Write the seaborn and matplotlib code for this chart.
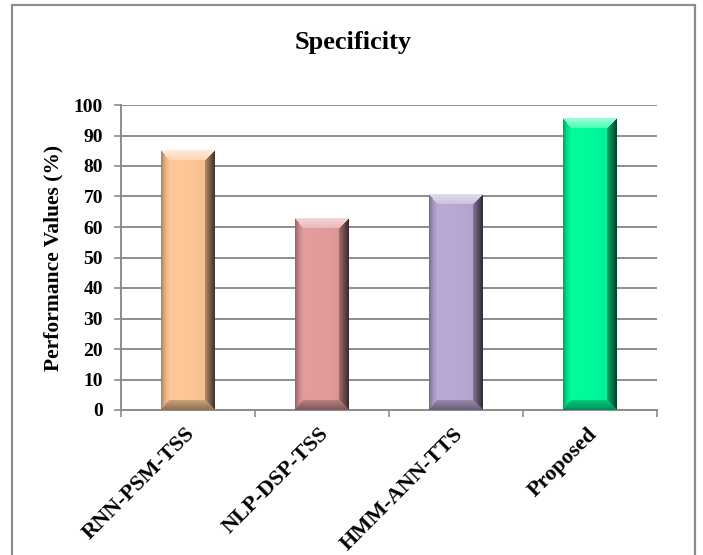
import numpy as np
import pandas as pd
import matplotlib
matplotlib.use("Agg")
import matplotlib.pyplot as plt
import matplotlib.colors as mcolors
import matplotlib.transforms as mtransforms
from matplotlib.patches import Rectangle
import seaborn as sns

# ---- data ----
methods = ["RNN-PSM-TSS", "NLP-DSP-TSS", "HMM-ANN-TTS", "Proposed"]
specificity = [85, 62.7, 70.8, 95.5]
bar_colors = ["#FFC898", "#E59C9C", "#BAA9D4", "#00FC9C"]
y_ticks = [0, 10, 20, 30, 40, 50, 60, 70, 80, 90, 100]

title_text = "Specificity"
ylabel_text = "Performance Values (%)"

sns.set_theme(style="white")
plt.rcParams["font.family"] = ["Liberation Serif", "DejaVu Serif"]
plt.rcParams["font.weight"] = "bold"

W_PX, H_PX = 703, 555
fig = plt.figure(figsize=(W_PX / 100, H_PX / 100), dpi=100)
fig.patch.set_facecolor("white")

ax_l, ax_r, ax_t, ax_b = 121, 657, 105, 410
ax = fig.add_axes([ax_l / W_PX, 1 - ax_b / H_PX, (ax_r - ax_l) / W_PX, (ax_b - ax_t) / H_PX])

df = pd.DataFrame({"method": methods, "value": specificity})
sns.barplot(data=df, x="method", y="value", hue="method", palette=bar_colors,
            legend=False, width=0.4, saturation=1, ax=ax, zorder=3,
            edgecolor="none", linewidth=0)

ax.set_xlim(-0.5, len(methods) - 0.5)
ax.set_ylim(0, 100)
ax.set_yticks(y_ticks)
ax.set_yticklabels([str(v) for v in y_ticks], fontsize=14, fontweight="bold", color="black")
ax.set_xticks(range(len(methods)))
ax.set_xticklabels(methods, rotation=45, ha="right", va="center",
                   rotation_mode="anchor", fontsize=16, fontweight="bold", color="black")
ax.set_xticks(np.arange(-0.5, len(methods)), minor=True)
ax.tick_params(axis="x", which="major", length=0, pad=15)
ax.tick_params(axis="x", which="minor", length=5, width=1.2, color="#8c8c8c", direction="out", bottom=True)
ax.tick_params(axis="y", length=5, width=1.2, color="#8c8c8c", direction="out", left=True, pad=8)
shift = mtransforms.ScaledTranslation(4 / 100, 0, fig.dpi_scale_trans)
for lbl in ax.get_xticklabels():
    lbl.set_transform(lbl.get_transform() + shift)

ax.set_xlabel("")
ax.set_ylabel(ylabel_text, fontsize=15.5, fontweight="bold", color="black")
ax.yaxis.set_label_coords((63 - ax_l) / (ax_r - ax_l), 0.5)

fig.text(353 / W_PX, 1 - 49 / H_PX, title_text, ha="center", va="baseline",
         fontsize=19, fontweight="bold", color="black")

ax.yaxis.grid(True, color="#8c8c8c", linewidth=1.4, zorder=0)
ax.set_axisbelow(True)
for s in ["top", "right"]:
    ax.spines[s].set_visible(False)
for s in ["left", "bottom"]:
    ax.spines[s].set_color("#8c8c8c")
    ax.spines[s].set_linewidth(1.4)

# ---- bevel shading over each bar (geometry taken from the seaborn patches) ----
def bevel_image(color, wpx, hpx, bpx=10):
    base = np.array(mcolors.to_rgb(color))
    ii, jj = np.mgrid[0:hpx, 0:wpx].astype(float)
    dt = ii / bpx
    db = (hpx - 1 - ii) / bpx
    dl = jj / (bpx * 0.8)
    dr = (wpx - 1 - jj) / bpx
    stack = np.stack([dt, db, dl, dr])
    face = np.argmin(stack, axis=0)
    dmin = np.min(stack, axis=0)
    img = np.empty((hpx, wpx, 3))
    hx = jj / max(wpx - 1, 1)
    body_dark = 0.07 * hx ** 3
    img[:] = base[None, None, :] * (1 - body_dark[..., None])
    inb = dmin < 1
    t = np.clip(dmin, 0, 1)
    white = np.ones(3)
    m = inb & (face == 0)
    a = (0.25 + 0.35 * (1 - t))[m][:, None]
    img[m] = base * (1 - a) + white * a
    m = inb & (face == 1)
    a = (0.18 + 0.25 * (1 - t))[m][:, None]
    img[m] = base * (1 - a)
    m = inb & (face == 2)
    a = (0.04 + 0.30 * (1 - t) ** 2)[m][:, None]
    img[m] = base * (1 - a)
    m = inb & (face == 3)
    a = (0.28 + 0.45 * (1 - t))[m][:, None]
    img[m] = base * (1 - a)
    return np.clip(img, 0, 1)

fig.canvas.draw()
for patch, col in zip(ax.patches, bar_colors):
    x0, y0 = patch.get_x(), patch.get_y()
    w, h = patch.get_width(), patch.get_height()
    p0 = ax.transData.transform((x0, y0))
    p1 = ax.transData.transform((x0 + w, y0 + h))
    wpx = int(round(abs(p1[0] - p0[0])))
    hpx = int(round(abs(p1[1] - p0[1])))
    img = bevel_image(col, wpx, hpx)
    ax.imshow(img, extent=(x0, x0 + w, y0, y0 + h), aspect="auto",
              interpolation="bilinear", zorder=4)

ax.set_xlim(-0.5, len(methods) - 0.5)
ax.set_ylim(0, 100)

# outer chart-area frame
frame = Rectangle((12 / W_PX, -0.05), (695 - 12) / W_PX, 1 - 5 / H_PX + 0.05,
                  transform=fig.transFigure, fill=False, edgecolor="#8c8c8c",
                  linewidth=1.6, clip_on=False)
fig.patches.append(frame)

fig.savefig("out.png", dpi=100, facecolor="white")
